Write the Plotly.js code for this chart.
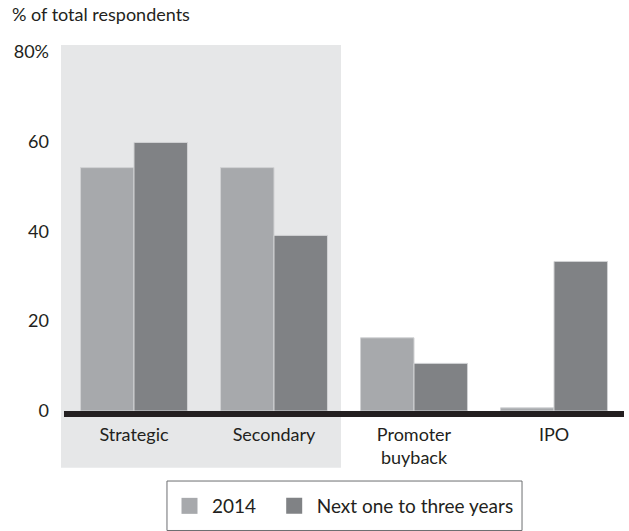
<!DOCTYPE html>
<html>
<head>
<meta charset="utf-8">
<script src="https://cdn.plot.ly/plotly-3.0.1.min.js"></script>
<style>html,body{margin:0;padding:0;background:#fff;}#chart{width:629px;height:531px;}</style>
</head>
<body>
<div id="chart"></div>
<script>
var categories = ["Strategic", "Secondary", "Promoter<br>buyback", "IPO"];
var series2014 = [54.2, 54.2, 16.3, 0.7];
var seriesNext = [59.8, 39.1, 10.6, 33.3];
var seriesNames = ["2014", "Next one to three years"];
var yTickVals = [0, 20, 40, 60, 80];
var yTickText = ["0", "20", "40", "60", "80%"];

var FONT = "Lato, 'Noto Sans', sans-serif";
var TXT = "#231f20";
var C1 = "#a7a9ac", C2 = "#808285";

var traces = [
  {type: "bar", name: seriesNames[0], x: categories, y: series2014, legendgroup: "a", showlegend: false,
   marker: {color: C1, line: {color: "#d1d2d4", width: 1}}, hoverinfo: "skip"},
  {type: "bar", name: seriesNames[1], x: categories, y: seriesNext, legendgroup: "b", showlegend: false,
   marker: {color: C2, line: {color: "#d1d2d4", width: 1}}, hoverinfo: "skip"},
  {type: "scatter", mode: "markers", name: seriesNames[0], x: [null], y: [null], legendgroup: "a",
   legend: "legend", marker: {symbol: "square", size: 16, color: C1}, hoverinfo: "skip"},
  {type: "scatter", mode: "markers", name: seriesNames[1], x: [null], y: [null], legendgroup: "b",
   legend: "legend2", marker: {symbol: "square", size: 16, color: C2}, hoverinfo: "skip"}
];

function legendAt(px) {
  return {orientation: "h", xref: "container", yref: "container",
          x: px/629, xanchor: "left", y: 1 - 506/531, yanchor: "middle",
          itemwidth: 35, itemsizing: "trace",
          borderwidth: 0, bgcolor: "rgba(0,0,0,0)",
          font: {family: FONT, size: 19, color: TXT}};
}

var layout = {
  width: 629, height: 531,
  margin: {l: 64, r: 5, t: 45, b: 120},
  paper_bgcolor: "#ffffff",
  plot_bgcolor: "rgba(0,0,0,0)",
  font: {family: FONT, size: 18, color: TXT},
  barmode: "group",
  bargap: 0.236,
  bargroupgap: 0,
  title: {text: "% of total respondents", x: 12/629, xref: "container", xanchor: "left",
          y: 1 - 15/531, yref: "container", yanchor: "middle",
          font: {family: FONT, size: 18, color: TXT}},
  xaxis: {type: "category", range: [-0.5, 3.5], showgrid: false, zeroline: false,
          showline: true, linecolor: TXT, linewidth: 6, ticks: "",
          ticklabelstandoff: 2, tickfont: {family: FONT, size: 18, color: TXT}, fixedrange: true},
  yaxis: {range: [0, 81.5], tickvals: yTickVals, ticktext: yTickText, showgrid: false,
          zeroline: false, showline: false, ticks: "", ticklabelstandoff: 14,
          tickfont: {family: FONT, size: 18, color: TXT}, fixedrange: true},
  shapes: [
    {type: "rect", xref: "paper", yref: "paper", x0: -0.0054, x1: 0.4946, y0: -0.155, y1: 1.0,
     fillcolor: "#e6e7e8", line: {width: 0}, layer: "below"},
    {type: "rect", xref: "paper", yref: "paper", x0: 0.1839, x1: 0.8179, y0: -0.3265, y1: -0.1913,
     fillcolor: "rgba(0,0,0,0)", line: {color: "#6d6e71", width: 1}, layer: "above"}
  ],
  showlegend: true,
  legend: legendAt(167),
  legend2: legendAt(271.7)
};

Plotly.newPlot("chart", traces, layout, {displayModeBar: false, staticPlot: true});
</script>
</body>
</html>
